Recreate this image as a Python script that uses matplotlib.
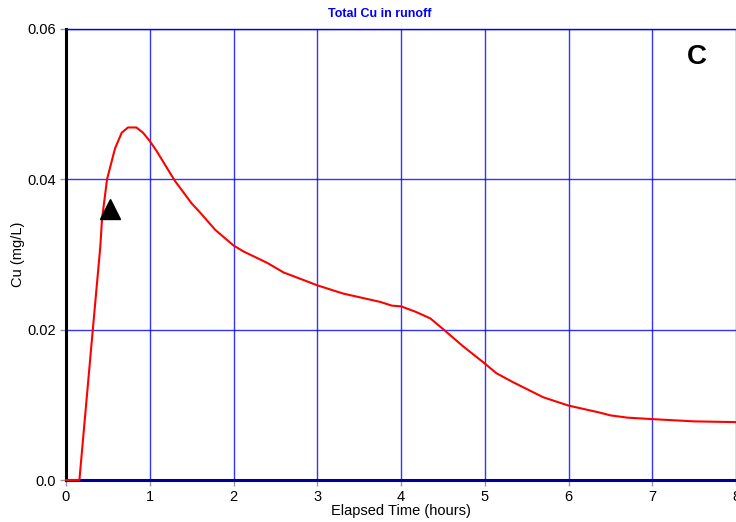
import matplotlib
matplotlib.use("Agg")
import matplotlib.pyplot as plt

plt.rcParams['font.family'] = ['Liberation Sans', 'DejaVu Sans']

# Simulated total copper concentration in runoff
hours = [0.0, 0.16, 0.32, 0.41, 0.43, 0.49, 0.585, 0.665, 0.74, 0.84, 0.92, 1.0,
         1.08, 1.30, 1.50, 1.60, 1.78, 2.0, 2.12, 2.40, 2.60, 2.79, 3.0, 3.31,
         3.59, 3.75, 3.89, 4.0, 4.17, 4.35, 4.5, 4.74, 5.0, 5.14, 5.34, 5.70,
         6.0, 6.36, 6.5, 6.7, 7.0, 7.5, 8.0]
cu = [0.0, 0.0, 0.020, 0.0311, 0.0347, 0.0400, 0.0441, 0.0462, 0.0469, 0.0469,
      0.0462, 0.0451, 0.0438, 0.0398, 0.0368, 0.0356, 0.0333, 0.0312, 0.0304,
      0.0289, 0.0276, 0.0268, 0.0259, 0.0248, 0.0241, 0.0237, 0.0232, 0.0231,
      0.0224, 0.0215, 0.0201, 0.0178, 0.0155, 0.0142, 0.0130, 0.0110, 0.0099,
      0.0090, 0.0086, 0.0083, 0.0081, 0.0078, 0.0077]

# Observed value
obs_hours = [0.525]
obs_cu = [0.036]

x_ticks = [0, 1, 2, 3, 4, 5, 6, 7, 8]
y_ticks = [0.0, 0.02, 0.04, 0.06]
y_tick_labels = ["0.0", "0.02", "0.04", "0.06"]

fig = plt.figure(figsize=(7.36, 5.22), dpi=100)
ax = fig.add_axes([66 / 736, 1 - 480 / 522, 1 - 66 / 736, (480 - 29) / 522])

ax.plot(hours, cu, color='#ff0000', lw=1.5, zorder=3, clip_on=False)
ax.plot(obs_hours, obs_cu, marker='^', color='black', markersize=14,
        linestyle='none', zorder=4)

ax.set_xlim(0, 8)
ax.set_ylim(0, 0.06)
ax.set_xticks(x_ticks)
ax.set_xticklabels([str(t) for t in x_ticks])
ax.set_yticks(y_ticks)
ax.set_yticklabels(y_tick_labels)

ax.grid(True, color='#0000ff', lw=1.0, alpha=0.8)
ax.set_axisbelow(True)

ax.spines['left'].set_color('black')
ax.spines['left'].set_linewidth(2.2)
ax.spines['bottom'].set_color('#000099')
ax.spines['bottom'].set_linewidth(2.2)
ax.spines['top'].set_color('#0000ff')
ax.spines['top'].set_linewidth(1.0)
ax.spines['right'].set_visible(False)

ax.tick_params(axis='both', labelsize=10.5, colors='#999999', labelcolor='black',
               length=4, width=1)

ax.set_xlabel("Elapsed Time (hours)", fontsize=10.5)
ax.xaxis.set_label_coords(0.5, -(504 - 480) / 451)
ax.set_ylabel("Cu (mg/L)", fontsize=10.5)
ax.yaxis.set_label_coords(-(66 - 25) / 670, 0.5)

fig.text(380 / 736, 1 - 14 / 522, "Total Cu in runoff", color='#0000ff',
         fontsize=9, fontweight='bold', ha='center', va='center')
ax.text((697 - 66) / 670, 1 - (57 - 29) / 451, "C",
        transform=ax.transAxes, fontsize=20, fontweight='bold',
        ha='center', va='center')

fig.savefig("out.png", dpi=100)
